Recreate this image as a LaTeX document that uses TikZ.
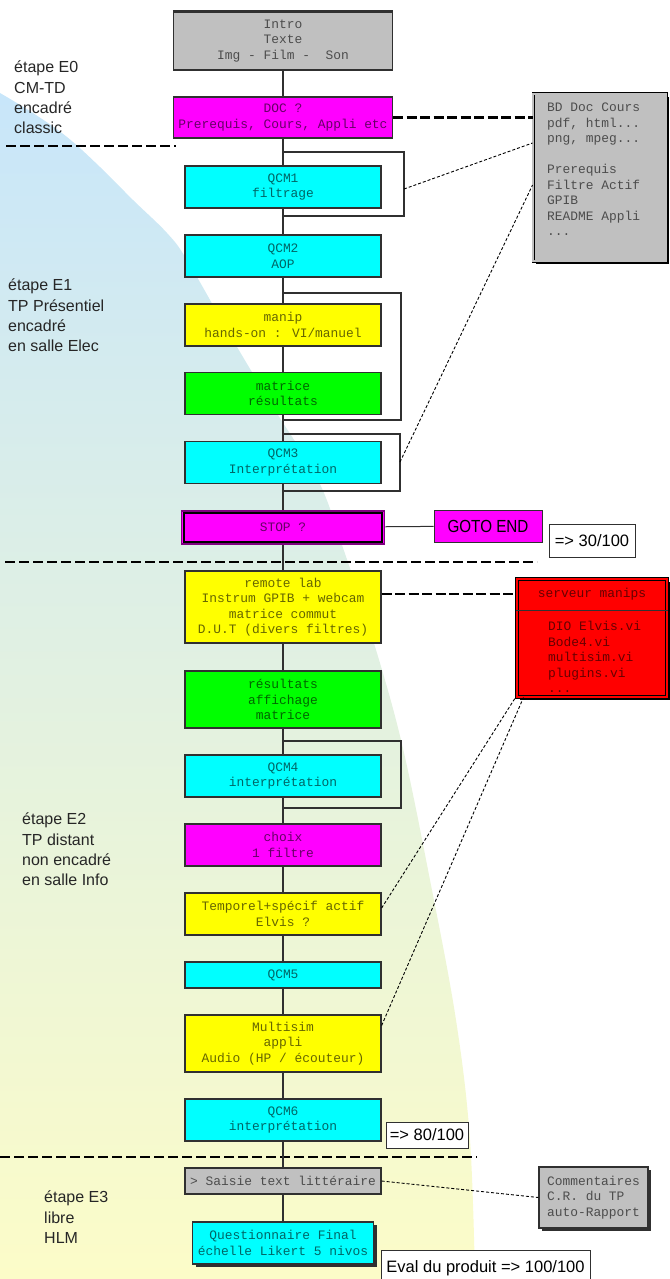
\documentclass[tikz,border=0pt]{standalone}
\usepackage{fontspec}
\usepackage{graphicx}
\setmainfont{Liberation Sans}
\newfontfamily\monofam{Liberation Mono}
\definecolor{flGrey}{HTML}{C0C0C0}
\definecolor{flMagenta}{HTML}{FF00FF}
\definecolor{flPurple}{HTML}{800080}
\definecolor{flCyan}{HTML}{00FFFF}
\definecolor{flYellow}{HTML}{FFFF00}
\definecolor{flGreen}{HTML}{00FF00}
\definecolor{flRed}{HTML}{FF0000}
\definecolor{flEdge}{HTML}{303030}
\definecolor{flSky}{HTML}{C8E6FA}
\definecolor{flCream}{HTML}{FCFCC8}
\usetikzlibrary{shadows}

\newcommand\boxfont{\monofam\fontsize{12.9pt}{15.5pt}\selectfont}
\newcommand\stagefont{\fontsize{16pt}{20.3pt}\selectfont}
\newcommand\notefont{\fontsize{16.5pt}{19pt}\selectfont}

\tikzset{
  stepbox/.style={draw=flEdge, line width=1.3pt, inner sep=0pt, minimum width=196pt,
    minimum height=42pt, align=center, font=\boxfont, text=black, text opacity=0.6},
  greybox/.style={stepbox, fill=flGrey},
  pinkbox/.style={stepbox, fill=flMagenta},
  qcmbox/.style={stepbox, fill=flCyan},
  manipbox/.style={stepbox, fill=flYellow},
  resbox/.style={stepbox, fill=flGreen},
  notebox/.style={draw=flEdge, line width=1pt, fill=white, inner sep=0pt, font=\notefont, text=black},
  sidetext/.style={anchor=north west, align=left, inner sep=0pt, font=\boxfont, text=black, text opacity=0.6},
  stagelabel/.style={anchor=north west, align=left, inner sep=0pt, font=\stagefont, text=black!85},
  link/.style={draw=flEdge, line width=1.2pt},
  bracket/.style={draw=flEdge, line width=1.2pt},
  thindash/.style={line width=0.9pt, dash pattern=on 3pt off 2pt},
  thickdash/.style={line width=2.4pt, dash pattern=on 10pt off 3.5pt},
  sepline/.style={line width=2.8pt, dash pattern=on 10pt off 4pt},
}

\begin{document}
\begin{tikzpicture}[x=1pt, y=-1pt]
  \useasboundingbox (0,0) rectangle (669,1279);

  % Background wedge, sky to cream
  \shade[top color=flSky, bottom color=flCream]
    plot[smooth, tension=0.6] coordinates {(0,93) (33,113) (67,137) (100,167) (133,200)
      (167,233) (187,260) (230,335) (273,407) (318,480) (342,545) (370,630) (401,740)
      (430,880) (456,1020) (470,1140) (475,1279)} -- (0,1279) -- cycle;

  % Stage labels
  \node[stagelabel] (stageA) at (14,61) {étape E0\\CM-TD\\encadré\\classic};
  \node[stagelabel] (stageB) at (8,279) {étape E1\\TP Présentiel\\encadré\\en salle Elec};
  \node[stagelabel] (stageC) at (22,813) {étape E2\\TP distant\\non encadré\\en salle Info};
  \node[stagelabel] (stageD) at (44,1191) {étape E3\\libre\\HLM};

  % Stage separators
  \draw[sepline] (6,146) -- (176,146);
  \draw[sepline] (5,562) -- (537,562);
  \draw[sepline] (0,1157) -- (477,1157);

  % Stage E0
  \node[greybox, minimum width=219pt, minimum height=58pt] (intro) at (283,41)
    {Intro\\Texte\\Img - Film -\ \ Son};
  \draw[line width=3pt, flEdge] (intro.north west) -- (intro.north east);
  \node[pinkbox, minimum width=219pt, minimum height=41pt] (doc) at (283,117.5)
    {DOC ?\\Prerequis, Cours, Appli etc};

  % Stage E1
  \node[qcmbox] (qcmA) at (283,187) {QCM1\\filtrage};
  \node[qcmbox] (qcmB) at (283,256) {QCM2\\AOP};
  \node[manipbox] (manip) at (283,325) {manip\\hands-on : VI/manuel};
  \node[resbox] (matrix) at (283,393.5) {matrice\\résultats};
  \node[qcmbox] (qcmC) at (283,462.5) {QCM3\\Interprétation};
  \node[pinkbox, draw=flPurple, line width=1.5pt, minimum width=203pt, minimum height=33pt]
    (stop) at (283,527.5) {STOP ?};
  \draw[line width=2pt] ([shift={(3pt,-3pt)}]stop.north west) rectangle ([shift={(-3pt,3pt)}]stop.south east);
  \node[notebox, fill=flMagenta, minimum width=108pt, minimum height=32pt,
    font=\fontsize{17.5pt}{20pt}\selectfont] (goto) at (488,526) {\scalebox{0.87}[1]{GOTO END}};
  \node[notebox, minimum width=86pt, minimum height=33pt] (scoreA) at (592,540.5) {=> 30/100};

  % Stage E2
  \node[manipbox, minimum height=72pt] (remote) at (283,607)
    {remote lab\\Instrum GPIB + webcam\\matrice commut\\D.U.T (divers filtres)};
  \node[resbox, minimum height=57pt] (results) at (283,699.5) {résultats\\affichage\\matrice};
  \node[qcmbox] (qcmD) at (283,776) {QCM4\\interprétation};
  \node[pinkbox] (choix) at (283,845) {choix\\1 filtre};
  \node[manipbox] (temporel) at (283,914) {Temporel+spécif actif\\Elvis ?};
  \node[qcmbox, minimum height=26pt] (qcmE) at (283,975) {QCM5};
  \node[manipbox, minimum height=57pt] (multisim) at (283,1043.5)
    {Multisim\\appli\\Audio (HP / écouteur)};
  \node[qcmbox] (qcmF) at (283,1120) {QCM6\\interprétation};
  \node[notebox, minimum width=82pt, minimum height=26pt] (scoreB) at (427,1135) {=> 80/100};

  % Stage E3
  \node[greybox, minimum height=26pt] (saisie) at (283,1181) {> Saisie text littéraire};
  \node[qcmbox, minimum width=181pt, drop shadow={shadow xshift=3pt, shadow yshift=-3pt, fill=flEdge, opacity=1}]
    (final) at (283,1243) {Questionnaire Final\\échelle Likert 5 nivos};
  \node[notebox, minimum width=209pt, minimum height=36pt] (eval) at (485.5,1268)
    {Eval du produit => 100/100};
  \node[greybox, minimum width=109pt, minimum height=61pt, align=left,
    drop shadow={shadow xshift=3pt, shadow yshift=-3pt, fill=flEdge, opacity=1}]
    (comment) at (593.5,1197.5) {Commentaires\\C.R. du TP\\auto-Rapport};

  % Resource boxes
  \node[draw=black, double=flGrey, double distance=1.2pt, line width=0.9pt, fill=flGrey,
    minimum width=133pt, minimum height=167pt, inner sep=0pt,
    drop shadow={shadow xshift=3pt, shadow yshift=-3pt, fill=black, opacity=1}]
    (bd) at (599.5,177.5) {};
  \node[sidetext] (bdtext) at (547,103)
    {BD Doc Cours\\pdf, html...\\png, mpeg...\\[15.5pt]Prerequis\\Filtre Actif\\GPIB\\README Appli\\...};
  \node[draw=black, double=flRed, double distance=1.2pt, line width=1.1pt, fill=flRed,
    minimum width=150pt, minimum height=118pt, inner sep=0pt,
    drop shadow={shadow xshift=3pt, shadow yshift=-3pt, fill=black, opacity=1}]
    (srv) at (592,638) {};
  \draw[line width=1.2pt, black!80] ([yshift=-32pt]srv.north west) -- ([yshift=-32pt]srv.north east);
  \node[font=\boxfont, text=black, text opacity=0.6, inner sep=0pt] (srvhead) at (592,594) {serveur manips};
  \node[sidetext] (srvtext) at (548,621)
    {DIO Elvis.vi\\Bode4.vi\\multisim.vi\\plugins.vi\\...};

  % Main flow
  \foreach \a/\b in {intro/doc, doc/qcmA, qcmA/qcmB, qcmB/manip, manip/matrix, matrix/qcmC,
      qcmC/stop, stop/remote, remote/results, results/qcmD, qcmD/choix, choix/temporel,
      temporel/qcmE, qcmE/multisim, multisim/qcmF, qcmF/saisie, saisie/final}
    \draw[link] (\a.south) -- (\a.south |- \b.north);
  \draw[link, line width=1pt] (stop) -- (goto);

  % Brackets
  \draw[bracket] (283,152) -| (404,216) -- (283,216);
  \draw[bracket] (283,293) -| (401,420) -- (283,420);
  \draw[bracket] (283,434) -| (400,491) -- (283,491);
  \draw[bracket] (283,741) -| (401,808) -- (283,808);
  \coordinate (brA) at (404,189);
  \coordinate (brC) at (400,462);

  % Links to resources
  \draw[thickdash] (doc.east) -- (doc.east -| bd.west);
  \draw[thindash] (brA) -- ([yshift=34.5pt]bd.west);
  \draw[thindash] (brC) -- ([yshift=-7.5pt]bd.west);
  \coordinate (remoteport) at ([yshift=13pt]remote.east);
  \draw[thickdash] (remoteport) -- (remoteport -| srv.west);
  \draw[thindash] ([yshift=6pt]temporel.east) -- ([xshift=-1pt]srv.south west);
  \draw[thindash] ([yshift=18pt]multisim.east) -- ([xshift=7pt]srv.south west);
  \draw[thindash] (saisie.east) -- (comment.west);

\end{tikzpicture}
\end{document}
